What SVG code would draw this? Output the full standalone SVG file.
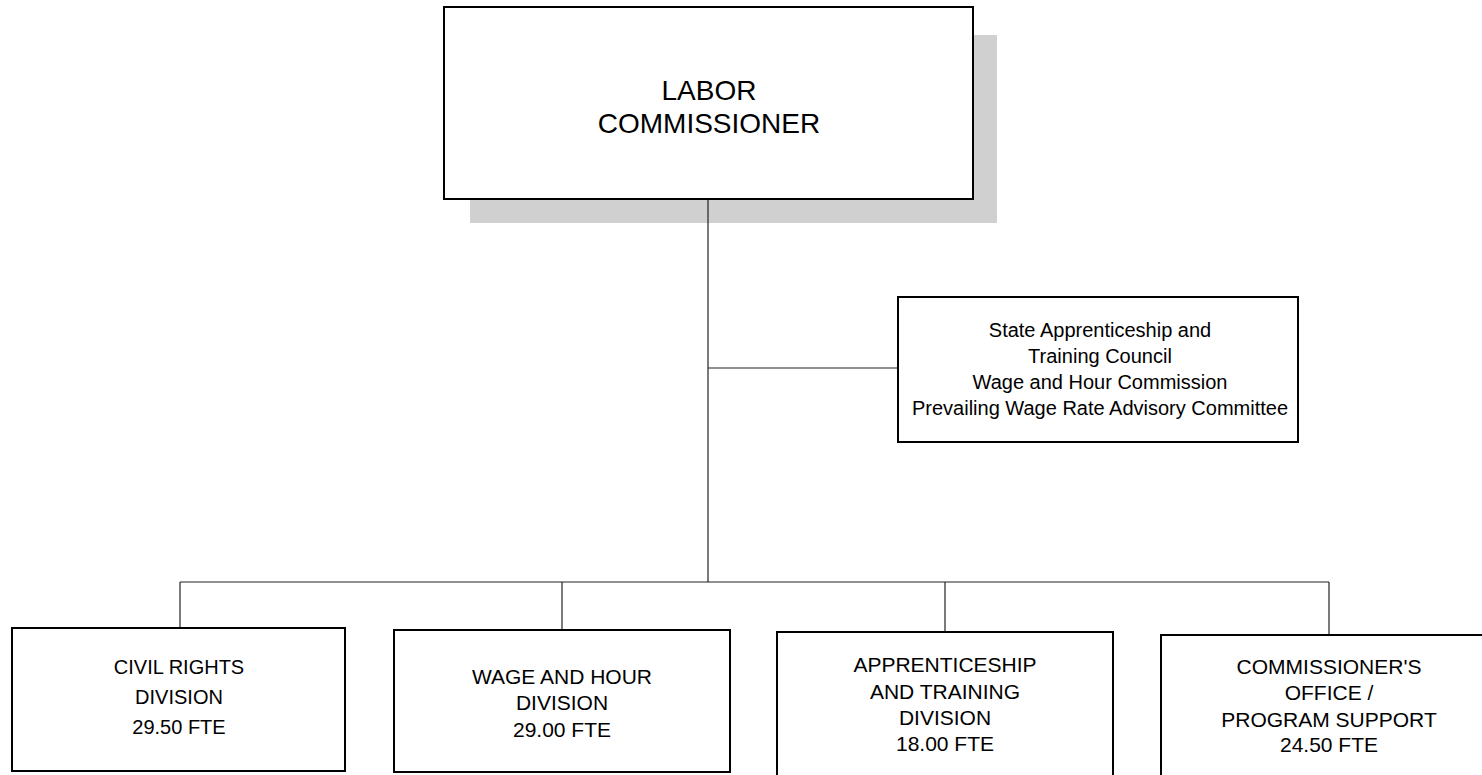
<svg xmlns="http://www.w3.org/2000/svg" width="1482" height="775" viewBox="0 0 1482 775">
<style>
.box{fill:#fff;stroke:#000;stroke-width:2}
.shadow{fill:#d0d0d0}
.conn{stroke:#222;stroke-width:1.2;fill:none}
text{font-family:"Liberation Sans",Arial,sans-serif;fill:#000;text-anchor:middle}
.t1{font-size:28px}
.t2{font-size:20px}
.t3{font-size:21px}
</style>
<rect width="1482" height="775" fill="#fff"/>
<g id="labor-commissioner">
<rect class="shadow" x="470" y="199" width="527" height="24"/>
<rect class="shadow" x="973" y="35" width="24" height="188"/>
<rect class="box" x="444" y="7" width="529" height="192"/>
<text class="t1" x="709" y="100">LABOR</text>
<text class="t1" x="709" y="133">COMMISSIONER</text>
</g>
<g id="advisory">
<rect class="box" x="898" y="297" width="400" height="145"/>
<text class="t2" x="1100" y="337">State Apprenticeship and</text>
<text class="t2" x="1100" y="363">Training Council</text>
<text class="t2" x="1100" y="389">Wage and Hour Commission</text>
<text class="t2" x="1100" y="415">Prevailing Wage Rate Advisory Committee</text>
</g>
<g id="civil-rights">
<rect class="box" x="12" y="628" width="333" height="143"/>
<text class="t2" x="179" y="674">CIVIL RIGHTS</text>
<text class="t2" x="179" y="704">DIVISION</text>
<text class="t2" x="179" y="734">29.50 FTE</text>
</g>
<g id="wage-hour">
<rect class="box" x="394" y="630" width="336" height="142"/>
<text class="t3" x="562" y="684">WAGE AND HOUR</text>
<text class="t3" x="562" y="710">DIVISION</text>
<text class="t3" x="562" y="737">29.00 FTE</text>
</g>
<g id="apprenticeship">
<rect class="box" x="777" y="632" width="336" height="150"/>
<text class="t3" x="945" y="672">APPRENTICESHIP</text>
<text class="t3" x="945" y="699">AND TRAINING</text>
<text class="t3" x="945" y="725">DIVISION</text>
<text class="t3" x="945" y="751">18.00 FTE</text>
</g>
<g id="commissioners-office">
<rect class="box" x="1161" y="635" width="336" height="150"/>
<text class="t3" x="1329" y="674">COMMISSIONER'S</text>
<text class="t3" x="1329" y="700">OFFICE /</text>
<text class="t3" x="1329" y="727">PROGRAM SUPPORT</text>
<text class="t3" x="1329" y="752">24.50 FTE</text>
</g>
<g id="connectors">
<line class="conn" x1="708" y1="200" x2="708" y2="582"/>
<line class="conn" x1="708" y1="368" x2="897" y2="368"/>
<line class="conn" x1="180" y1="582" x2="1329" y2="582"/>
<line class="conn" x1="180" y1="582" x2="180" y2="627"/>
<line class="conn" x1="562" y1="582" x2="562" y2="629"/>
<line class="conn" x1="945" y1="582" x2="945" y2="631"/>
<line class="conn" x1="1329" y1="582" x2="1329" y2="634"/>
</g>
</svg>
